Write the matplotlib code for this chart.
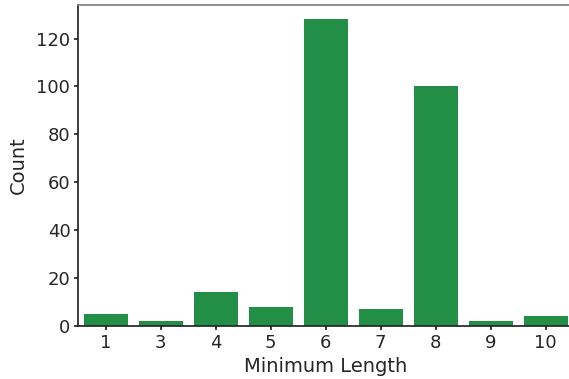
import matplotlib
matplotlib.use("Agg")
import matplotlib.pyplot as plt
import seaborn as sns

# Bar data
lengths = ["1", "3", "4", "5", "6", "7", "8", "9", "10"]
counts = [5, 2, 14, 8, 128, 7, 100, 2, 4]

sns.set_theme(style="ticks")

fig = plt.figure(figsize=(5.69, 3.79), dpi=100)
ax = fig.add_axes([78 / 569, 53 / 379, 495 / 569, 321 / 379])

sns.barplot(x=lengths, y=counts, color="#238e45", saturation=1, linewidth=0, ax=ax)

ax.set_xlabel("Minimum Length", fontsize=14, labelpad=4)
ax.set_ylabel("Count", fontsize=14, labelpad=6)
ax.tick_params(labelsize=13, length=3, pad=2.5)
ax.set_ylim(0, 134)
ax.set_yticks([0, 20, 40, 60, 80, 100, 120])
ax.spines["top"].set_color("#808080")

fig.savefig("out.png", dpi=100)
